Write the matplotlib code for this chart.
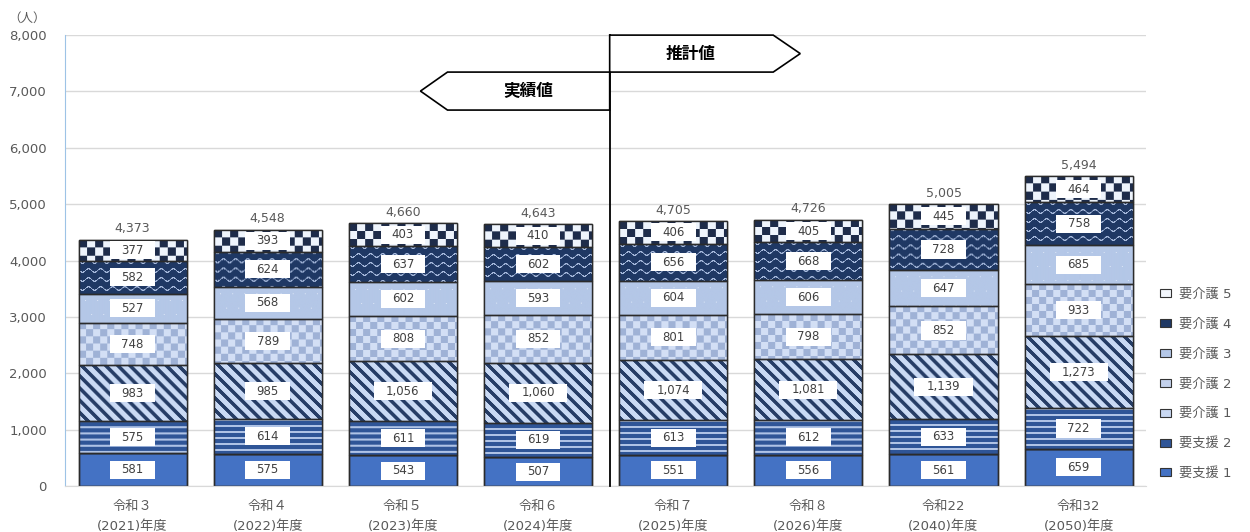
import numpy as np
import matplotlib
matplotlib.use("Agg")
import matplotlib.pyplot as plt
from matplotlib.patches import Rectangle, Polygon, Patch

plt.rcParams["font.family"] = ["DejaVu Sans", "Noto Sans CJK JP"]

# 認定者数（人）
years = ["令和３\n(2021)年度", "令和４\n(2022)年度", "令和５\n(2023)年度", "令和６\n(2024)年度",
         "令和７\n(2025)年度", "令和８\n(2026)年度", "令和22\n(2040)年度", "令和32\n(2050)年度"]
shien1 = [581, 575, 543, 507, 551, 556, 561, 659]
shien2 = [575, 614, 611, 619, 613, 612, 633, 722]
kaigo1 = [983, 985, 1056, 1060, 1074, 1081, 1139, 1273]
kaigo2 = [748, 789, 808, 852, 801, 798, 852, 933]
kaigo3 = [527, 568, 602, 593, 604, 606, 647, 685]
kaigo4 = [582, 624, 637, 602, 656, 668, 728, 758]
kaigo5 = [377, 393, 403, 410, 406, 405, 445, 464]
series = [shien1, shien2, kaigo1, kaigo2, kaigo3, kaigo4, kaigo5]
legend_labels = ["要支援 1", "要支援 2", "要介護 1", "要介護 2", "要介護 3", "要介護 4", "要介護 5"]

base_colors = ["#4472C4", "#2F5597", "#C9D8F2", "#C3D1EC", "#B4C7E7", "#1F3864", "#F2F6FC"]
GRAY = "#595959"
JP = ["Noto Sans CJK JP", "DejaVu Sans"]


def hexrgb(c):
    c = c.lstrip("#")
    return np.array([int(c[i:i + 2], 16) / 255 for i in (0, 2, 4)])


def texture(kind, w, h):
    """Pixel pattern for one bar segment (w x h pixels)."""
    yy, xx = np.mgrid[0:h, 0:w]
    if kind == "hstripe":
        bg, fg = hexrgb("#2F5597"), hexrgb("#AFC3E6")
        mask = (yy % 6) < 2
    elif kind == "diag":
        bg, fg = hexrgb("#CADAF4"), hexrgb("#263D66")
        mask = ((xx - yy) % 12) < 5
    elif kind == "smallcheck":
        bg, fg = hexrgb("#D3DFF5"), hexrgb("#9FB2D6")
        mask = ((xx // 7) + (yy // 7)) % 2 == 0
    elif kind == "dots":
        bg, fg = hexrgb("#B4C7E7"), hexrgb("#DCE6F6")
        shift = ((yy // 14) % 2) * 6
        mask = (((xx + shift) % 12) == 6) & ((yy % 14) == 7)
    elif kind == "wave":
        bg, fg = hexrgb("#1F3864"), hexrgb("#A9BCDF")
        off = 2.0 * np.sin(2 * np.pi * xx / 12)
        mask = np.abs(((yy - off) % 9) - 4.5) > 3.7
    elif kind == "bigcheck":
        bg, fg = hexrgb("#EEF4FC"), hexrgb("#1E2C4A")
        mask = ((xx // 8) + (yy // 8)) % 2 == 0
    else:
        return None
    img = np.empty((h, w, 3))
    img[:] = bg
    img[mask] = fg
    return img


kinds = [None, "hstripe", "diag", "smallcheck", "dots", "wave", "bigcheck"]

fig = plt.figure(figsize=(12.5, 5.32), dpi=100)
ax = fig.add_axes([0.052, 0.0865, 0.865, 0.8475])

x = np.arange(len(years))
width = 0.8
ax.set_xlim(-0.5, len(years) - 0.5)
ax.set_ylim(0, 8000)

bottoms = np.zeros(len(years))
for vals, color, kind in zip(series, base_colors, kinds):
    bars = ax.bar(x, vals, width, bottom=bottoms, color=color, edgecolor="#2B2B2B",
                  linewidth=1.0, zorder=2)
    for rect in bars:
        x0, y0 = rect.get_x(), rect.get_y()
        x1, y1 = x0 + rect.get_width(), y0 + rect.get_height()
        if kind is not None:
            (px0, py0), (px1, py1) = ax.transData.transform([(x0, y0), (x1, y1)])
            w_px, h_px = max(int(round(px1 - px0)), 1), max(int(round(py1 - py0)), 1)
            im = ax.imshow(texture(kind, w_px, h_px), extent=(x0, x1, y0, y1), aspect="auto",
                           interpolation="bilinear", origin="upper", zorder=2.1)
            im.set_clip_path(rect)
        # segment outline on top of the texture
        ax.add_patch(Rectangle((x0, y0), x1 - x0, y1 - y0, fill=False,
                               edgecolor="#2B2B2B", linewidth=1.0, zorder=2.2))
    # value labels in white boxes
    for xi, b, v in zip(x, bottoms, vals):
        txt = f"{v:,}"
        bw = 0.33 if len(txt) <= 3 else 0.43
        bh = 320
        yc = b + v / 2
        ax.add_patch(Rectangle((xi - bw / 2, yc - bh / 2), bw, bh, facecolor="white",
                               edgecolor="none", zorder=3))
        ax.text(xi, yc, txt, ha="center", va="center", fontsize=8.5, color="#404040", zorder=4)
    bottoms = bottoms + np.array(vals)

totals = bottoms
for xi, t in zip(x, totals):
    ax.annotate(f"{int(t):,}", (xi, t), xytext=(0, 3), textcoords="offset points",
                ha="center", va="bottom", fontsize=9, color=GRAY)

# axes styling
ax.set_yticks(np.arange(0, 8001, 1000))
ax.set_yticklabels([f"{v:,}" for v in range(0, 8001, 1000)])
ax.set_xticks(x)
ax.set_xticklabels(years, linespacing=1.75)
ax.tick_params(axis="y", length=0, pad=13, labelsize=9.5, labelcolor=GRAY)
ax.tick_params(axis="x", length=0, pad=10, labelsize=9.5, labelcolor=GRAY)
ax.grid(axis="y", color="#D9D9D9", linewidth=1.0, zorder=0)
ax.set_axisbelow(True)
for side in ("top", "right"):
    ax.spines[side].set_visible(False)
ax.spines["left"].set_color("#9DC3E6")
ax.spines["bottom"].set_color("#D9D9D9")
ax.text(-0.035, 1.038, "（人）", transform=ax.transAxes, ha="center", va="center",
        fontsize=9, color=GRAY, family=JP)

# 実績値 / 推計値 の区切り
split = 3.53
ax.plot([split, split], [0, 8000], color="black", linewidth=1.3, zorder=5, clip_on=False)
est = Polygon([(split, 8000), (4.74, 8000), (4.94, 7672), (4.74, 7344), (split, 7344)],
              closed=True, facecolor="white", edgecolor="black", linewidth=1.2, zorder=5,
              clip_on=False)
act = Polygon([(split, 7344), (2.33, 7344), (2.13, 7007), (2.33, 6670), (split, 6670)],
              closed=True, facecolor="white", edgecolor="black", linewidth=1.2, zorder=5)
ax.add_patch(est)
ax.add_patch(act)
ax.text(4.13, 7672, "推計値", ha="center", va="center", fontsize=12, fontweight="bold",
        zorder=6, family=JP)
ax.text(2.93, 7007, "実績値", ha="center", va="center", fontsize=12, fontweight="bold",
        zorder=6, family=JP)

# legend
handles = [Patch(facecolor=c, edgecolor="#333333", linewidth=0.8) for c in base_colors]
leg = ax.legend(handles[::-1], legend_labels[::-1], loc="upper left",
                bbox_to_anchor=(1.002, 0.466), frameon=False, fontsize=9.5,
                handlelength=0.8, handleheight=0.55, handletextpad=0.6, labelspacing=1.28)
for t in leg.get_texts():
    t.set_color(GRAY)

fig.savefig("out.png", dpi=100)
